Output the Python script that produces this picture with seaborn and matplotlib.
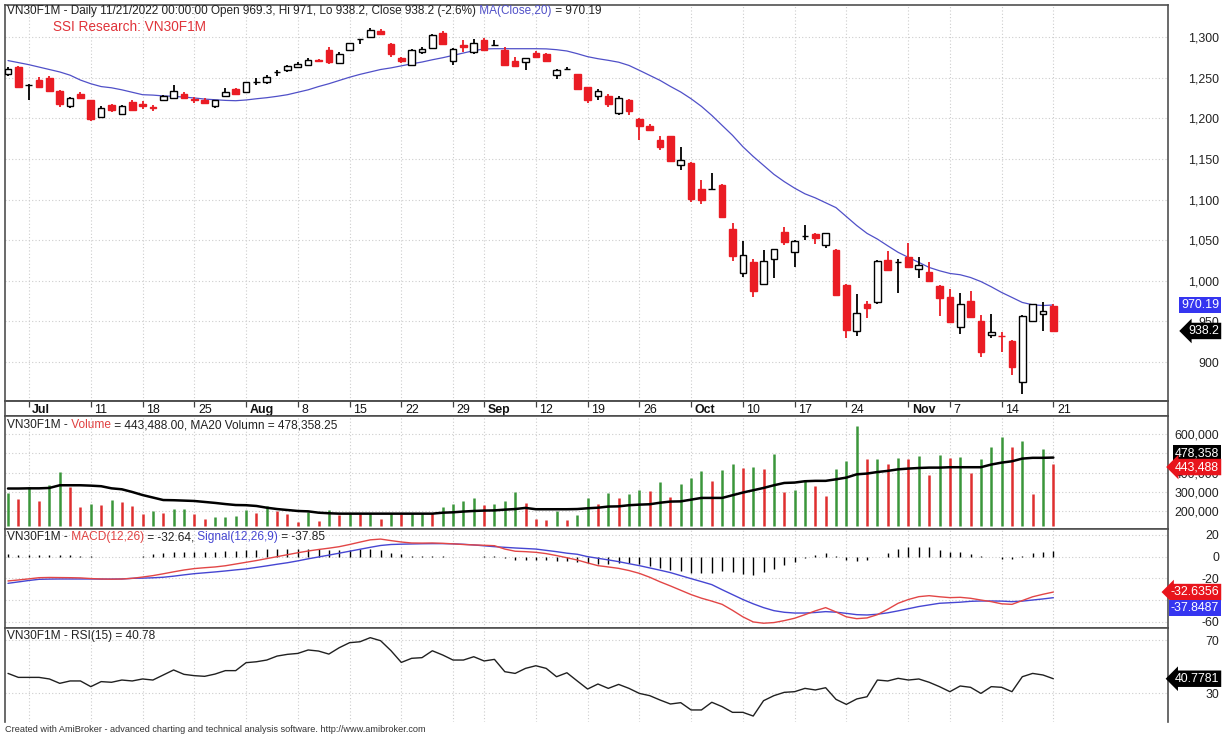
import numpy as np
import matplotlib
matplotlib.use("Agg")
import matplotlib.pyplot as plt
from matplotlib.ticker import FuncFormatter
import seaborn as sns


# ------------------------------#
# Data
# ------------------------------#
opens = [1255, 1263, 1241, 1247, 1249.5, 1234, 1215, 1230, 1222, 1201.5,
         1216, 1205.5, 1220, 1218, 1214, 1223, 1225, 1230, 1224, 1223,
         1215.5, 1228, 1236, 1232, 1245, 1244.6, 1257, 1259, 1263, 1265,
         1271.3, 1283.6, 1268, 1284.4, 1297, 1300, 1307, 1292, 1274.6, 1265,
         1281.5, 1287, 1305, 1270, 1290, 1281.5, 1296.7, 1290.5, 1284.4, 1270,
         1269.2, 1280.7, 1278.6, 1252.8, 1260.5, 1254, 1238.4, 1227, 1228, 1206.4,
         1222, 1199.4, 1191, 1173.6, 1177.7, 1143, 1144.5, 1113, 1113, 1118,
         1063.6, 1009, 1023.4, 996, 1026.7, 1059.5, 1035, 1055.5, 1058, 1044,
         1038, 995, 938.4, 971.3, 973.3, 1025.4, 1023.4, 1029.6, 1014.4, 1010.3,
         993.8, 979.5, 943.3, 975.4, 950, 933.5, 932.3, 925.4, 874.8, 950.7,
         959, 969.3]
highs = [1263, 1264, 1242, 1251, 1252, 1235, 1226, 1232, 1223, 1215,
         1217, 1216.7, 1222, 1221, 1216, 1229, 1241, 1232, 1226, 1225,
         1223, 1237, 1237, 1245, 1249.5, 1253, 1260, 1266, 1269, 1273.6,
         1272.5, 1287.7, 1281, 1293, 1298, 1311.5, 1310, 1293, 1276, 1285,
         1288, 1304, 1307, 1287, 1296, 1298, 1299, 1296.7, 1288, 1275,
         1274.5, 1283, 1280, 1261, 1263, 1255, 1239, 1236.4, 1230, 1227,
         1223.6, 1200, 1193, 1177.7, 1178, 1164.5, 1146, 1124, 1133, 1119,
         1070.6, 1049, 1026.6, 1038, 1039.5, 1065.6, 1050, 1069, 1059, 1059,
         1039, 996, 983.6, 975.4, 1025.5, 1037, 1026.7, 1046.8, 1028.7, 1023.4,
         995, 989.7, 984.4, 987, 958, 959, 936.4, 927, 958, 972,
         974, 971]
lows = [1252, 1238, 1222, 1238, 1233, 1214, 1213, 1224, 1197, 1200,
        1208, 1204, 1209, 1212, 1209, 1222, 1224, 1224, 1219, 1218,
        1213, 1228, 1229, 1231, 1240.5, 1242.5, 1251.5, 1256.5, 1262, 1264,
        1269, 1267, 1267, 1284, 1292, 1299, 1303, 1276, 1268, 1264,
        1279.5, 1286, 1290.5, 1265, 1281.5, 1278.7, 1283, 1290, 1264, 1264,
        1260, 1275.4, 1270, 1248.7, 1259, 1235, 1218.7, 1222, 1214, 1203.5,
        1203.5, 1173.6, 1184, 1161, 1147, 1136.6, 1096.5, 1094.5, 1112, 1078,
        1024.6, 1005, 979.5, 994.7, 1004, 1044, 1017, 1050, 1045, 1040,
        981.5, 930, 932, 954, 972, 1012, 984.4, 1015.6, 1002.9, 999,
        957, 948, 934.3, 955, 905.6, 930, 912.6, 884, 860.5, 949.5,
        938.4, 938.2]
closes = [1261, 1239, 1241, 1239, 1234, 1217, 1225, 1225, 1199.5, 1213,
          1210, 1214.6, 1210, 1215, 1213, 1227, 1233.5, 1225, 1222.5, 1219,
          1222, 1232, 1230, 1244.6, 1245, 1250.7, 1257, 1264, 1267, 1272,
          1270.5, 1269, 1279.5, 1292.6, 1297, 1309, 1304, 1279.5, 1270, 1283.6,
          1285.6, 1303, 1292, 1285.6, 1288, 1293, 1284.4, 1290.5, 1265, 1264.3,
          1274, 1276, 1270.5, 1259, 1260.5, 1236.4, 1222, 1233.5, 1218, 1225.3,
          1208.5, 1191, 1185, 1164.5, 1147.3, 1149, 1100.6, 1099.4, 1113, 1079,
          1030.8, 1031.6, 987.7, 1024.6, 1039, 1047.2, 1049.3, 1055.5, 1052.5, 1058.3,
          983, 939.7, 959.8, 966.4, 1023.8, 1013.5, 1023.4, 1016.4, 1019.7, 1000,
          978.6, 948.7, 971.3, 956, 911.7, 936.4, 931.4, 893.3, 957, 971.3,
          962.3, 938.2]
ma20 = [1271, 1268.5, 1266, 1263, 1260, 1257, 1253, 1247, 1242.5, 1239,
        1237.5, 1235, 1232, 1229, 1228.5, 1227.5, 1227, 1226, 1225, 1223.6,
        1222.8, 1222, 1221.6, 1222.5, 1224, 1225.3, 1227, 1229, 1232, 1235,
        1239, 1242.5, 1246.5, 1250.5, 1254, 1257, 1260, 1262, 1264.5, 1267,
        1269.2, 1272, 1274.5, 1277.4, 1280.3, 1283.2, 1285.3, 1285.6, 1285.6, 1285.6,
        1285.6, 1285.6, 1285.4, 1284.4, 1282.8, 1279.5, 1275.8, 1273.3, 1271.3, 1269,
        1265, 1259, 1252.8, 1246.6, 1239.2, 1232.3, 1224, 1214.6, 1203.5, 1191.2,
        1179, 1165, 1153, 1142, 1131, 1122, 1114, 1107, 1102, 1096,
        1090, 1079, 1068, 1058.3, 1051.3, 1043, 1035, 1028.7, 1022.6, 1016.4,
        1012.3, 1009, 1007.4, 1004, 999, 992.6, 985.6, 979.5, 973.3, 970.4,
        969.5, 970.19]

volume = [296, 261, 327, 252, 334, 403, 325, 221, 235, 231,
          257, 249, 226, 183, 200, 188, 209, 210, 186, 160,
          170, 171, 172, 203, 188, 226, 200, 186, 143, 197,
          148, 203, 177, 188, 184, 191, 160, 188, 185, 191,
          192, 189, 223, 235, 252, 266, 231, 235, 252, 301,
          243, 157, 151, 200, 153, 179, 270, 235, 296, 270,
          287, 310, 304, 353, 275, 343, 370, 406, 357, 412,
          443, 424, 430, 417, 496, 299, 308, 355, 330, 278,
          417, 461, 643, 470, 473, 443, 478, 473, 487, 390,
          490, 476, 479, 400, 470, 534, 583, 534, 565, 290,
          525, 443.488]
vol_ma20 = [317, 317, 318, 318, 320, 334, 334, 334, 332, 329,
            318, 313, 299, 283, 270, 257, 256, 254, 252, 247,
            242, 236, 231, 230, 226, 217, 210, 205, 200, 198,
            191, 188, 186, 186, 186, 186, 186, 186, 186, 186,
            186, 186, 191, 193, 197, 200, 202, 203, 207, 210,
            216, 209, 209, 209, 209, 210, 214, 217, 223, 224,
            230, 233, 235, 243, 249, 250, 259, 268, 268, 268,
            282, 296, 308, 320, 334, 346, 348, 355, 357, 357,
            365, 374, 391, 395, 403, 409, 417, 421, 424, 426,
            426, 428, 428, 428, 428, 442, 452, 459, 473, 477,
            477, 478.358]

macd = [-22.4, -21.5, -20.5, -19.4, -19.2, -19.3, -19.4, -19.6, -20.2, -20.6,
        -20.8, -20.6, -20.0, -18.8, -17.5, -15.8, -14.0, -12.3, -11.0, -10.2,
        -9.5, -8.4, -6.8, -5.2, -3.6, -1.8, 0.0, 1.8, 3.6, 5.2,
        6.6, 7.8, 9.2, 11.2, 13.4, 15.5, 16.2, 14.8, 13.5, 12.6,
        12.5, 12.6, 12.3, 11.8, 11.2, 10.8, 10.5, 10.1, 7.0, 5.0,
        4.6, 4.0, 2.8, 1.0, -1.0, -3.1, -5.8, -8.3, -9.5, -10.8,
        -12.8, -15.4, -19.0, -23.2, -27.0, -31.0, -35.0, -38.3, -41.0, -44.0,
        -49.5, -55.5, -60.2, -61.4, -60.8, -59.0, -56.8, -53.5, -50.0, -47.0,
        -51.0, -55.5, -57.2, -56.5, -53.5, -48.5, -43.0, -39.5, -36.9, -36.0,
        -37.0, -37.8, -37.5, -38.4, -40.0, -41.5, -43.5, -44.0, -40.5, -37.0,
        -34.7, -32.64]
signal = [-24.6, -23.3, -22.0, -20.9, -20.7, -20.6, -20.6, -20.6, -20.6, -20.7,
          -20.7, -20.6, -20.0, -19.8, -19.5, -19.0, -18.0, -16.8, -15.7, -14.9,
          -14.1, -13.2, -12.2, -11.3, -9.9, -8.5, -7.0, -5.6, -3.9, -2.0,
          -0.3, 1.4, 3.2, 5.0, 6.8, 8.6, 10.3, 11.2, 11.5, 11.7,
          11.9, 12.0, 12.0, 11.8, 11.4, 10.8, 10.0, 9.2, 8.6, 8.0,
          7.5, 7.0, 5.8, 4.6, 3.2, 2.2, 0.0, -1.5, -3.0, -4.6,
          -6.5, -8.3, -10.4, -12.5, -14.7, -17.5, -20.3, -23.0, -25.8, -30.5,
          -35.0, -39.5, -43.5, -47.0, -49.8, -51.3, -52.0, -52.0, -51.5, -50.7,
          -51.2, -52.3, -53.5, -53.8, -53.1, -51.8, -50.0, -48.0, -46.0, -44.5,
          -43.0, -42.5, -42.0, -41.2, -40.9, -40.9, -41.0, -41.5, -41.0, -40.0,
          -39.0, -37.85]

rsi = [44.8, 41.8, 41.8, 41.8, 40.6, 37.3, 39.1, 39.1, 34.8, 38.6,
       38.1, 39.8, 39.1, 40.6, 39.8, 43.6, 47.4, 44.1, 43.1, 42.6,
       44.3, 46.9, 46.9, 52.9, 53.6, 54.9, 57.9, 59.2, 59.9, 62.5,
       61.7, 59.4, 64.2, 68.0, 68.7, 71.8, 69.5, 62.0, 53.1, 56.2,
       56.7, 61.9, 58.7, 54.9, 54.9, 57.4, 54.2, 55.4, 46.1, 44.8,
       48.6, 50.6, 48.6, 42.3, 45.3, 39.1, 33.0, 36.8, 33.5, 36.5,
       33.5, 29.7, 28.0, 24.7, 21.7, 22.7, 17.2, 17.2, 23.0, 19.7,
       15.4, 15.4, 12.6, 24.2, 28.0, 30.5, 31.0, 33.5, 32.3, 34.0,
       25.2, 21.4, 25.5, 27.2, 39.8, 39.1, 41.1, 39.8, 40.6, 38.1,
       34.8, 31.0, 35.3, 34.3, 29.7, 34.8, 34.3, 31.0, 42.3, 44.8,
       43.6, 40.78]

tick_idx = [2, 8, 13, 18, 23, 28, 33, 38, 43, 46, 51, 56, 61, 66, 71, 76, 81, 87, 91, 96, 101]
tick_labels = ["Jul", "11", "18", "25", "Aug", "8", "15", "22", "29", "Sep",
               "12", "19", "26", "Oct", "10", "17", "24", "Nov", "7", "14", "21"]

price_ticks = [900, 950, 1000, 1050, 1100, 1150, 1200, 1250, 1300]
volume_ticks = [200000, 300000, 400000, 500000, 600000]
macd_ticks = [-60, -40, -20, 0, 20]
rsi_ticks = [30, 70]


# ------------------------------#
# Style
# ------------------------------#
sns.set_theme(style="white")
plt.rcParams["font.family"] = ["Liberation Sans", "DejaVu Sans"]
plt.rcParams["axes.unicode_minus"] = False

RED = "#ea1c24"
VGREEN = "#3b963b"
VRED = "#df2f2f"
MA_BLUE = "#5050c8"
EDGE = "#505050"
GRID = "#cdcdcd"
TXT = "#222222"
FS = 8.6

W, H = 1224, 736
LEFT, RIGHT = 5, 1168
XMIN = (LEFT - 8) / 10.35
XMAX = XMIN + (RIGHT - LEFT) / 10.35
TAG_X = (1219 - LEFT) / (RIGHT - LEFT)

fig = plt.figure(figsize=(W / 100, H / 100), dpi=100)


def box(y0, y1):
    return [LEFT / W, 1 - y1 / H, (RIGHT - LEFT) / W, (y1 - y0) / H]


ax_p = fig.add_axes(box(5, 401))
ax_d = fig.add_axes(box(401, 416))
ax_v = fig.add_axes(box(416, 529))
ax_m = fig.add_axes(box(529, 628))
ax_r = fig.add_axes(box(628, 722))


def fmt_skip(hidden, pattern):
    # labels that the value tags cover completely are left blank
    return FuncFormatter(lambda v, p: "" if v in hidden else pattern.format(v))


def style_panel(ax, ylim, yticks, fmt):
    ax.set_xlim(XMIN, XMAX)
    ax.set_ylim(*ylim)
    ax.set_xticks(tick_idx)
    ax.set_yticks(yticks)
    ax.yaxis.set_major_formatter(fmt)
    ax.yaxis.tick_right()
    ax.tick_params(axis="both", length=0, labelbottom=False, labelsize=FS + 0.3,
                   labelcolor=TXT)
    ax.tick_params(axis="y", pad=37)
    for lab in ax.get_yticklabels():
        lab.set_horizontalalignment("right")
    ax.grid(True, color=GRID, linestyle=(0, (1, 2)), linewidth=0.8)
    ax.set_axisbelow(True)
    for s in ax.spines.values():
        s.set_color(EDGE)
        s.set_linewidth(1.2)
    ax.set_xlabel("")
    ax.set_ylabel("")


def tag(ax, value, text, fc, arrow, dy=0):
    style = ("larrow" if arrow else "square") + ",pad=0.18"
    ax.annotate(text, xy=(TAG_X, value), xycoords=ax.get_yaxis_transform(),
                xytext=(0, dy), textcoords="offset points",
                ha="right", va="center", color="white", fontsize=FS + 0.3,
                bbox=dict(boxstyle=style, fc=fc, ec="none"),
                annotation_clip=False, zorder=10)


def chain(ax, x, y, parts, size=FS):
    t = ax.text(x, y, parts[0][0], color=parts[0][1], fontsize=size,
                transform=fig.transFigure, va="center", ha="left")
    for s, col in parts[1:]:
        t = ax.annotate(s, xy=(1, 0), xycoords=t, color=col, fontsize=size,
                        va="bottom", ha="left", annotation_clip=False)


x = np.arange(len(closes))
o, h, l, c = map(np.array, (opens, highs, lows, closes))
up = c >= o

# ------------------------------#
# 1. Price panel
# ------------------------------#
sns.lineplot(x=x, y=ma20, ax=ax_p, color=MA_BLUE, linewidth=0.9, legend=False, zorder=2)
ax_p.vlines(x, l, h, colors=np.where(up, "black", RED), linewidth=1.3, zorder=3)
ax_p.bar(x, np.abs(c - o), bottom=np.minimum(o, c), width=0.64,
         color=np.where(up, "white", RED), edgecolor=np.where(up, "black", RED),
         linewidth=1.0, zorder=4)
style_panel(ax_p, (852, 1339.4), price_ticks, fmt_skip([], "{:,.0f}"))
tag(ax_p, ma20[-1], f"{ma20[-1]:.2f}", "#3535f0", False)
tag(ax_p, closes[-1], f"{closes[-1]:.1f}", "black", True)

chain(ax_p, 7 / W, 1 - 11 / H, [
    ("VN30F1M - Daily 11/21/2022 00:00:00 Open 969.3, Hi 971, Lo 938.2, Close 938.2 (-2.6%)", TXT),
    (" MA(Close,20)", MA_BLUE),
    (f" = {ma20[-1]:.2f}", TXT),
], size=8.5)
fig.text(53 / W, 1 - 27 / H, "SSI Research: VN30F1M", color="#e0343a",
         fontsize=9.8, va="center")

# ------------------------------#
# 2. Date band
# ------------------------------#
ax_d.set_xlim(XMIN, XMAX)
ax_d.set_ylim(0, 1)
ax_d.set_xticks(tick_idx)
ax_d.set_yticks([])
ax_d.tick_params(axis="x", bottom=False, top=True, direction="in", length=4,
                 width=0.9, color="#404040", labelbottom=False)
for s in ax_d.spines.values():
    s.set_color(EDGE)
    s.set_linewidth(1.4)
ax_d.spines["left"].set_linewidth(1.2)
ax_d.spines["right"].set_linewidth(1.2)
for i, lab in zip(tick_idx, tick_labels):
    ax_d.text(i + 0.35, 0.42, lab, ha="left", va="center", fontsize=FS + 0.3,
              color="#111111", fontweight="bold" if lab.isalpha() else "normal")

# ------------------------------#
# 3. Volume panel
# ------------------------------#
vol = np.array(volume) * 1000
vol_up = np.r_[True, vol[1:] >= vol[:-1]]
ax_v.vlines(x, 122000, vol, colors=np.where(vol_up, VGREEN, VRED), linewidth=1.8)
sns.lineplot(x=x, y=np.array(vol_ma20) * 1000, ax=ax_v, color="black",
             linewidth=1.8, legend=False)
style_panel(ax_v, (106000, 695000), volume_ticks, fmt_skip([500000], "{:,.0f}"))
tag(ax_v, vol_ma20[-1] * 1000, f"{vol_ma20[-1] * 1000:,.0f}", "black", False, dy=3)
tag(ax_v, vol[-1], f"{vol[-1]:,.0f}", "#e8141c", True, dy=-2)
chain(ax_v, 7 / W, 1 - 425 / H, [
    ("VN30F1M -", TXT),
    (" Volume", "#e04040"),
    (f" = {vol[-1]:,.2f}, MA20 Volumn = 478,358.25", TXT),
])

# ------------------------------#
# 4. MACD panel
# ------------------------------#
hist = np.array(macd) - np.array(signal)
ax_m.vlines(x, 0, hist, colors="black", linewidth=1.0)
sns.lineplot(x=x, y=signal, ax=ax_m, color="#4646d2", linewidth=1.0, legend=False)
sns.lineplot(x=x, y=macd, ax=ax_m, color="#e24646", linewidth=1.0, legend=False)
style_panel(ax_m, (-65.8, 25.5), macd_ticks, fmt_skip([-40], "{:.0f}"))
tag(ax_m, macd[-1], "-32.6356", "#e8141c", True)
tag(ax_m, signal[-1], "-37.8487", "#3535f0", False, dy=-7.5)
chain(ax_m, 7 / W, 1 - 537 / H, [
    ("VN30F1M -", TXT),
    (" MACD(12,26)", "#e04040"),
    (f" = {macd[-1]:.2f},", TXT),
    (" Signal(12,26,9)", "#4646d2"),
    (f" = {signal[-1]:.2f}", TXT),
])

# ------------------------------#
# 5. RSI panel
# ------------------------------#
sns.lineplot(x=x, y=rsi, ax=ax_r, color="#202020", linewidth=1.0, legend=False)
style_panel(ax_r, (8.1, 79.1), rsi_ticks, fmt_skip([], "{:.0f}"))
ax_r.spines["bottom"].set_visible(False)
tag(ax_r, rsi[-1], "40.7781", "black", True)
chain(ax_r, 7 / W, 1 - 636 / H, [("VN30F1M - RSI(15) = 40.78", TXT)])

fig.text(5 / W, 1 - 729 / H,
         "Created with AmiBroker - advanced charting and technical analysis software. http://www.amibroker.com",
         fontsize=6.6, color="#333333", va="center")

fig.savefig("out.png", dpi=100)
